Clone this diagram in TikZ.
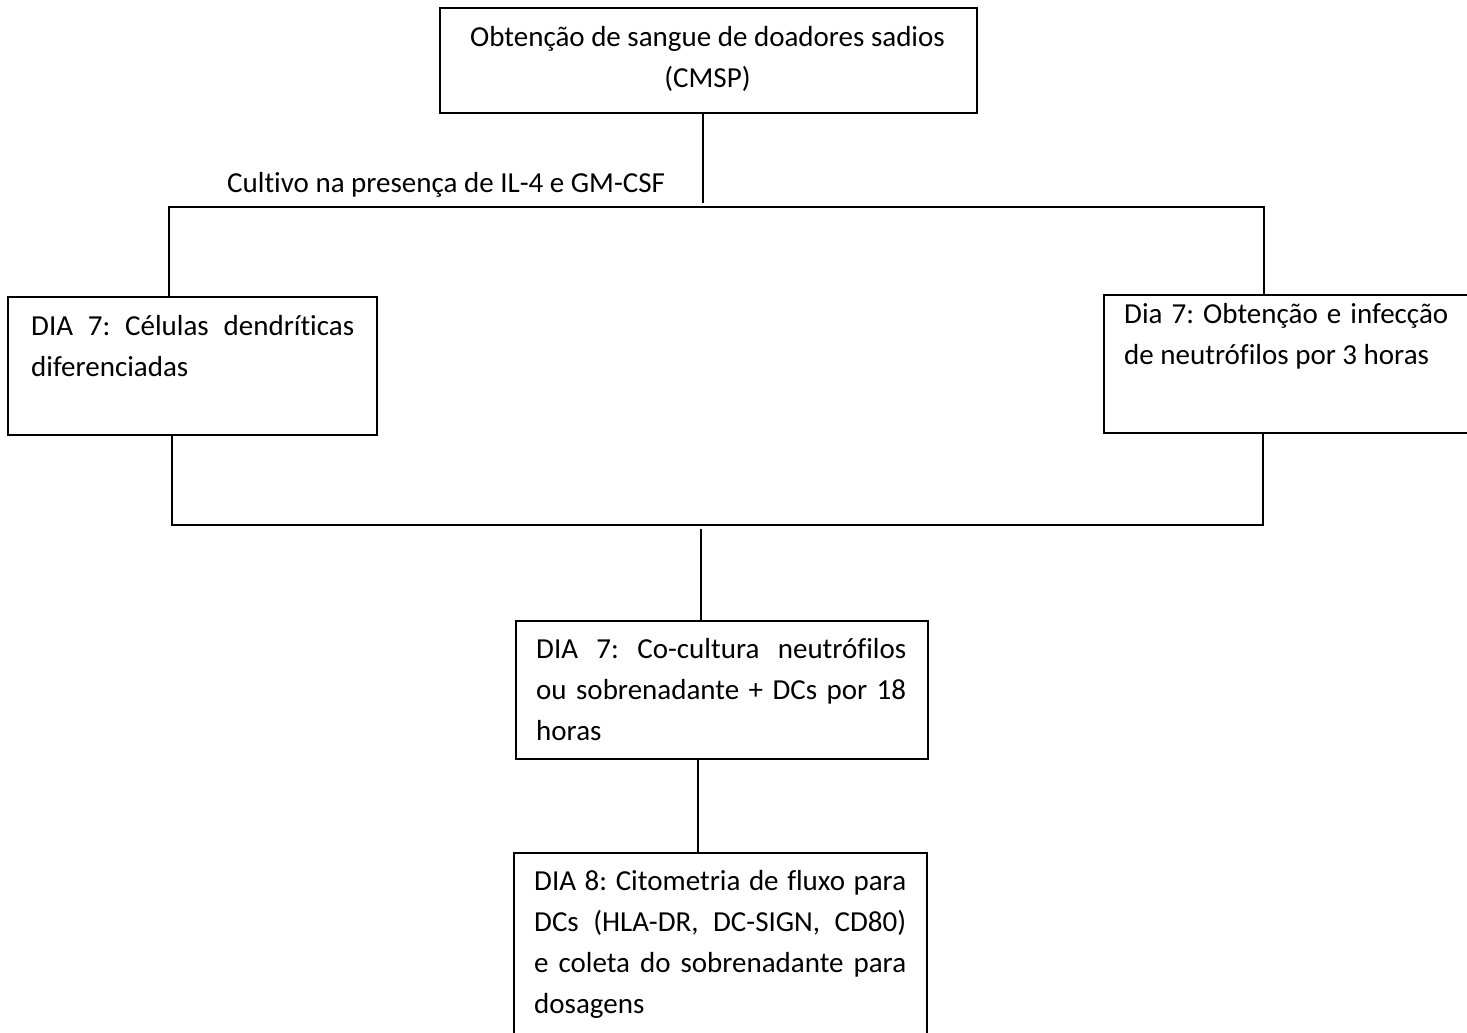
\documentclass[tikz,border=0pt]{standalone}
\usepackage{fontspec}
\setmainfont{Carlito}[Ligatures=NoCommon]
\begin{document}
\begin{tikzpicture}[x=1pt,y=1pt,
  box/.style={draw=black, line width=2pt, rectangle, inner sep=0pt, anchor=north west},
  txt/.style={inner sep=0pt, anchor=base west, text=black},
  link/.style={draw=black, line width=2pt}]
\useasboundingbox (0,0) rectangle (1467,-1033);
\fontsize{29}{41}\selectfont\frenchspacing
\hyphenpenalty=10000 \exhyphenpenalty=10000 \emergencystretch=20pt \hbadness=10000 \hfuzz=20pt
% boxes
\node[box, minimum width=537pt, minimum height=105pt] (b0) at (439,-7) {};
\node[box, minimum width=369pt, minimum height=138pt] (b1) at (7,-296) {};
\node[box, minimum width=400pt, minimum height=138pt] (b2) at (1103,-294) {};
\node[box, minimum width=412pt, minimum height=138pt] (b3) at (515,-620) {};
\node[box, minimum width=413pt, minimum height=220pt] (b4) at (513,-852) {};
% texts
\node[inner sep=0pt, anchor=base] (t0) at (707.5,-47) {\parbox[t]{530pt}{\centering Obtenção de sangue de doadores sadios\\(CMSP)}};
\node[txt] (t1) at (31,-335) {\parbox[t]{323pt}{DIA 7: Células dendríticas\linebreak diferenciadas}};
\node[txt] (t2) at (1124,-323) {\parbox[t]{324pt}{Dia 7: Obtenção e infecção\linebreak de neutrófilos por 3 horas}};
\node[txt] (t3) at (536,-658) {\parbox[t]{370pt}{DIA 7: Co-cultura neutrófilos\linebreak ou sobrenadante + DCs por 18\linebreak horas}};
\node[txt] (t4) at (534,-890) {\parbox[t]{372pt}{DIA 8: Citometria de fluxo para\linebreak DCs (HLA-DR, DC-SIGN, CD80)\linebreak e coleta do sobrenadante para\linebreak dosagens}};
\node[txt] (lab) at (227,-192) {Cultivo na presença de IL-4 e GM-CSF};
% junction coordinates
\coordinate (c1) at (703,-203);
\coordinate (hl) at (169,-207);
\coordinate (hr) at (1264,-207);
\coordinate (ll) at (172,-525);
\coordinate (lr) at (1263,-525);
\coordinate (c2) at (701,-529);
\coordinate (c3) at (698,-800);
% connectors
\draw[link] (b0.south -| c1) -- (c1);
\draw[link] (b1.north -| hl) -- (hl) -- (hr) -- (b2.north -| hr);
\draw[link] (b1.south -| ll) -- (ll) -- (lr) -- (b2.south -| lr);
\draw[link] (c2) -- (c2 |- b3.north);
\draw[link] (b3.south -| c3) -- (b4.north -| c3);
\end{tikzpicture}
\end{document}
